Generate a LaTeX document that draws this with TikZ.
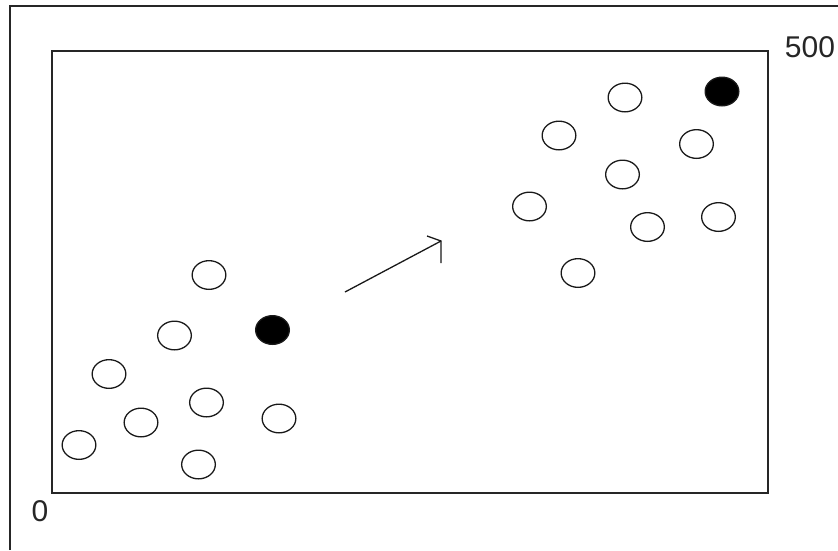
\documentclass[tikz,border=0pt]{standalone}
\usepackage{fontspec}
\setmainfont{Liberation Sans}
\usetikzlibrary{shapes.geometric}

\begin{document}
\begin{tikzpicture}[
    x=1pt, y=-1pt, % pixel coordinates, origin top left
    frame/.style={line width=1.8pt, draw=black!85},
    ball/.style={ellipse, draw=black!90, line width=1.3pt, minimum width=33.7pt, minimum height=28.7pt, inner sep=0pt}, % open particle
    hotball/.style={ball, fill=black}, % marked particle
    tick/.style={font=\fontsize{30}{36}\selectfont, text=black!85, inner sep=0pt},
    stroke/.style={line width=1.3pt, draw=black!90}
]
    \useasboundingbox (0,0) rectangle (838,550);

    % --- FRAMES ---
    \draw[frame] (10,550) -- (10,6) -- (838,6);
    \draw[frame] (52,51) rectangle (768,493);

    % Axis labels
    \node[tick] (origin) at (40,511.5) {0};
    \node[tick] (top) at (810,47) {500};

    % --- LEFT CLUSTER (before) ---
    \node[ball] (a1) at (209,275) {};
    \node[ball] (a2) at (174.5,335.5) {};
    \node[ball] (a3) at (109,374) {};
    \node[ball] (a4) at (206.5,402.5) {};
    \node[ball] (a5) at (141,422.5) {};
    \node[ball] (a6) at (79,445) {};
    \node[ball] (a7) at (279,418.5) {};
    \node[ball] (a8) at (198.5,464.5) {};
    \node[hotball] (a0) at (272.5,330) {};

    % --- ARROW ---
    \coordinate (shaft) at (345,292);
    \coordinate (tip) at (441,241);
    \draw[stroke] (shaft) -- (tip);
    \draw[stroke] (427,236) -- (tip) -- (441,263);

    % --- RIGHT CLUSTER (after) ---
    \node[ball] (b1) at (625,97.5) {};
    \node[ball] (b2) at (559,135.5) {};
    \node[ball] (b3) at (696.5,144) {};
    \node[ball] (b4) at (622.5,174.5) {};
    \node[ball] (b5) at (529.5,206.5) {};
    \node[ball] (b6) at (647.5,227) {};
    \node[ball] (b7) at (718.5,217) {};
    \node[ball] (b8) at (578,273) {};
    \node[hotball] (b0) at (722,91.5) {};

\end{tikzpicture}
\end{document}
